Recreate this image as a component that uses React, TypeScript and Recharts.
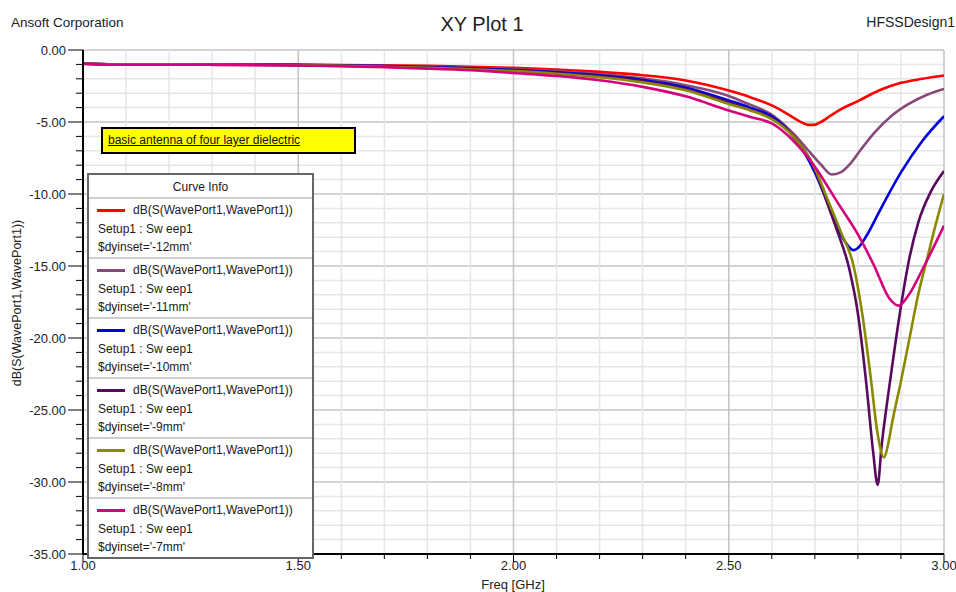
import { LineChart, Line, XAxis, YAxis, CartesianGrid } from "recharts";

const FONT = '"Liberation Sans", Arial, sans-serif';

// shared low-frequency sample points (GHz)
const FREQ_LOW = [1.0, 1.1, 1.2, 1.3, 1.4, 1.5, 1.6, 1.7, 1.8, 1.9, 2.0, 2.1, 2.2, 2.3, 2.4, 2.5];

// $dyinset='-12mm'
const RED_LOW = [-0.95, -1.0, -1.0, -1.0, -1.0, -1.02, -1.04, -1.07, -1.1, -1.16, -1.24, -1.36, -1.52, -1.75, -2.12, -2.82];
const RED_TAIL_F = [2.55, 2.6, 2.63, 2.653, 2.671, 2.685, 2.698, 2.714, 2.737, 2.76, 2.8, 2.85, 2.9, 2.95, 3.0];
const RED_TAIL_DB = [-3.28, -3.85, -4.33, -4.75, -5.05, -5.2, -5.2, -5.0, -4.55, -4.13, -3.55, -2.8, -2.28, -2.0, -1.77];

// $dyinset='-11mm'
const MAUVE_LOW = [-0.95, -1.0, -1.0, -1.0, -1.01, -1.03, -1.06, -1.1, -1.15, -1.23, -1.34, -1.48, -1.68, -1.97, -2.45, -3.2];
const MAUVE_TAIL_F = [2.53, 2.605, 2.652, 2.683, 2.714, 2.739, 2.76, 2.784, 2.807, 2.838, 2.877, 2.916, 2.962, 3.0];
const MAUVE_TAIL_DB = [-3.56, -4.6, -5.87, -6.91, -7.95, -8.65, -8.5, -7.84, -6.91, -5.75, -4.6, -3.78, -3.09, -2.7];

// $dyinset='-10mm'
const BLUE_LOW = [-0.95, -1.0, -1.0, -1.0, -1.02, -1.04, -1.08, -1.12, -1.18, -1.27, -1.39, -1.54, -1.76, -2.08, -2.6, -3.5];
const BLUE_TAIL_F = [2.55, 2.6, 2.65, 2.7, 2.72, 2.75, 2.77, 2.79, 2.8, 2.82, 2.85, 2.9, 2.95, 3.0];
const BLUE_TAIL_DB = [-4.0, -4.6, -6.0, -8.5, -9.9, -12.2, -13.3, -13.9, -13.75, -12.9, -11.2, -8.5, -6.3, -4.6];

// $dyinset='-9mm'
const PURPLE_LOW = [-0.95, -1.0, -1.0, -1.01, -1.02, -1.05, -1.09, -1.14, -1.21, -1.31, -1.43, -1.6, -1.83, -2.17, -2.72, -3.65];
const PURPLE_TAIL_F = [2.55, 2.6, 2.65, 2.7, 2.72, 2.75, 2.78, 2.8, 2.82, 2.835, 2.846, 2.855, 2.87, 2.885, 2.9, 2.92, 2.94, 2.97, 3.0];
const PURPLE_TAIL_DB = [-4.15, -4.75, -6.0, -8.3, -9.9, -12.4, -15.2, -18.3, -23.3, -27.8, -30.2, -27.5, -24.0, -20.8, -17.8, -14.4, -12.0, -9.8, -8.4];

// $dyinset='-8mm'
const OLIVE_LOW = [-0.95, -1.0, -1.0, -1.01, -1.03, -1.06, -1.1, -1.16, -1.24, -1.34, -1.47, -1.65, -1.89, -2.25, -2.8, -3.75];
const OLIVE_TAIL_F = [2.55, 2.6, 2.65, 2.7, 2.73, 2.76, 2.79, 2.81, 2.83, 2.845, 2.861, 2.87, 2.88, 2.9, 2.92, 2.94, 2.96, 2.98, 3.0];
const OLIVE_TAIL_DB = [-4.2, -4.8, -6.0, -8.2, -10.4, -12.6, -15.0, -18.3, -22.8, -26.5, -28.3, -27.4, -25.8, -23.0, -20.0, -17.0, -14.6, -12.2, -10.0];

// $dyinset='-7mm'
const PINK_LOW = [-0.95, -1.02, -1.02, -1.03, -1.05, -1.08, -1.13, -1.2, -1.29, -1.41, -1.6, -1.8, -2.1, -2.56, -3.22, -4.2];
const PINK_TAIL_F = [2.55, 2.6, 2.65, 2.7, 2.753, 2.8, 2.838, 2.872, 2.895, 2.916, 2.954, 3.0];
const PINK_TAIL_DB = [-4.65, -5.1, -6.3, -8.1, -10.6, -12.8, -15.0, -17.2, -17.75, -17.1, -15.0, -12.2];

const X_TICKS = Array.from({ length: 21 }, (_, i) => 1 + i * 0.1);
const Y_TICKS = Array.from({ length: 36 }, (_, i) => -i);

const EXPR = "dB(S(WavePort1,WavePort1))";
const SWEEP = "Setup1 : Sw eep1";

const SERIES = [
  { inset: "-12mm", color: "#FF0000", low: RED_LOW, tf: RED_TAIL_F, tdb: RED_TAIL_DB },
  { inset: "-11mm", color: "#88487A", low: MAUVE_LOW, tf: MAUVE_TAIL_F, tdb: MAUVE_TAIL_DB },
  { inset: "-10mm", color: "#0000E0", low: BLUE_LOW, tf: BLUE_TAIL_F, tdb: BLUE_TAIL_DB },
  { inset: "-9mm", color: "#5A0A5E", low: PURPLE_LOW, tf: PURPLE_TAIL_F, tdb: PURPLE_TAIL_DB },
  { inset: "-8mm", color: "#8A8A00", low: OLIVE_LOW, tf: OLIVE_TAIL_F, tdb: OLIVE_TAIL_DB },
  { inset: "-7mm", color: "#D4007E", low: PINK_LOW, tf: PINK_TAIL_F, tdb: PINK_TAIL_DB },
].map((s) => {
  const f = [...FREQ_LOW, ...s.tf];
  const db = [...s.low, ...s.tdb];
  return { ...s, data: f.map((x, i) => ({ f: x, db: db[i] })) };
});

const isMajorX = (v: number) => Math.abs(v * 2 - Math.round(v * 2)) < 1e-6;

const XTick = (props: any) => {
  const { x, y, payload } = props;
  const major = isMajorX(payload.value);
  return (
    <g>
      <line x1={x} x2={x} y1={y} y2={y + (major ? 8 : 5)} stroke="#000" />
      {major && (
        <text x={x} y={y + 16} textAnchor="middle" fontSize={13} fontFamily={FONT} fill="#222">
          {payload.value.toFixed(2)}
        </text>
      )}
    </g>
  );
};

const YTick = (props: any) => {
  const { x, y, payload } = props;
  const major = payload.value % 5 === 0;
  return (
    <g>
      <line x1={x - (major ? 15 : 7)} x2={x} y1={y} y2={y} stroke="#000" />
      {major && (
        <text x={x - 17} y={y + 4.5} textAnchor="end" fontSize={13} fontFamily={FONT} fill="#222">
          {payload.value.toFixed(2)}
        </text>
      )}
    </g>
  );
};

const gridLine = (p: any) => (
  <line
    key={p.key}
    x1={p.x1}
    x2={p.x2}
    y1={p.y1}
    y2={p.y2}
    stroke={p.index % 5 === 0 ? "#c4c4c4" : "#e6e6e6"}
    strokeWidth={1.5}
  />
);

export default function App() {
  return (
    <div
      style={{
        position: "absolute",
        left: 0,
        top: 0,
        width: 956,
        height: 592,
        background: "#fff",
        fontFamily: FONT,
        overflow: "hidden",
      }}
    >
      <LineChart width={956} height={592} margin={{ top: 50, right: 12, bottom: 0, left: 0 }}>
        <CartesianGrid horizontal={gridLine} vertical={gridLine} />
        <XAxis
          dataKey="f"
          type="number"
          domain={[1, 3]}
          ticks={X_TICKS}
          interval={0}
          height={38}
          tickSize={0}
          tickMargin={0}
          tickLine={false}
          axisLine={{ stroke: "#000", strokeWidth: 2 }}
          tick={<XTick />}
          allowDataOverflow
        />
        <XAxis
          xAxisId="top"
          orientation="top"
          type="number"
          domain={[1, 3]}
          height={0}
          tick={false}
          tickLine={false}
          axisLine={{ stroke: "#333", strokeWidth: 2 }}
        />
        <YAxis
          type="number"
          domain={[-35, 0]}
          ticks={Y_TICKS}
          interval={0}
          width={83}
          tickSize={0}
          tickMargin={0}
          tickLine={false}
          axisLine={{ stroke: "#000", strokeWidth: 2 }}
          tick={<YTick />}
          allowDataOverflow
        />
        <YAxis
          yAxisId="right"
          orientation="right"
          type="number"
          domain={[-35, 0]}
          width={0}
          tick={false}
          tickLine={false}
          axisLine={{ stroke: "#000", strokeWidth: 2 }}
        />
        {SERIES.map((s) => (
          <Line
            key={s.inset}
            data={s.data}
            dataKey="db"
            type="monotone"
            stroke={s.color}
            strokeWidth={2.6}
            dot={false}
            isAnimationActive={false}
          />
        ))}
      </LineChart>

      <svg width={956} height={592} style={{ position: "absolute", left: 0, top: 0, pointerEvents: "none" }}>
        <text x={11} y={27} fontSize={13.5} fontFamily={FONT} fill="#222">Ansoft Corporation</text>
        <text x={482} y={31} fontSize={20} fontFamily={FONT} fill="#222" textAnchor="middle">XY Plot 1</text>
        <text x={955} y={27} fontSize={14} fontFamily={FONT} fill="#222" textAnchor="end">HFSSDesign1</text>
        <text x={513} y={589} fontSize={13} fontFamily={FONT} fill="#222" textAnchor="middle">Freq [GHz]</text>
        <text
          x={21}
          y={303}
          fontSize={12.5}
          fontFamily={FONT}
          fill="#222"
          textAnchor="middle"
          transform="rotate(-90 21 303)"
        >
          {EXPR}
        </text>
      </svg>

      <div
        style={{
          position: "absolute",
          left: 101,
          top: 127,
          width: 255,
          height: 27,
          boxSizing: "border-box",
          background: "#FFFF00",
          border: "2px solid #000",
          fontSize: 12,
          lineHeight: "23px",
          paddingLeft: 5,
          color: "#111",
        }}
      >
        <span style={{ textDecoration: "underline" }}>basic antenna of four layer dielectric</span>
      </div>

      <div
        style={{
          position: "absolute",
          left: 87,
          top: 173,
          width: 227,
          boxSizing: "border-box",
          border: "2px solid #666",
          background: "#fff",
          fontSize: 12,
          color: "#1a1a1a",
        }}
      >
        <div
          style={{
            height: 22,
            lineHeight: "24px",
            textAlign: "center",
            borderBottom: "2px solid #cfcfcf",
          }}
        >
          Curve Info
        </div>
        {SERIES.map((s, i) => (
          <div
            key={s.inset}
            style={{
              height: 56,
              paddingTop: 2,
              boxSizing: "content-box",
              borderBottom: i < SERIES.length - 1 ? "2px solid #cfcfcf" : "none",
            }}
          >
            <div style={{ display: "flex", alignItems: "center", height: 18.5 }}>
              <div style={{ marginLeft: 8, width: 28, height: 2.5, background: s.color }} />
              <div style={{ marginLeft: 8 }}>{EXPR}</div>
            </div>
            <div style={{ height: 18.5, lineHeight: "18.5px", paddingLeft: 9 }}>{SWEEP}</div>
            <div style={{ height: 18.5, lineHeight: "18.5px", paddingLeft: 9 }}>$dyinset='{s.inset}'</div>
          </div>
        ))}
      </div>
    </div>
  );
}
